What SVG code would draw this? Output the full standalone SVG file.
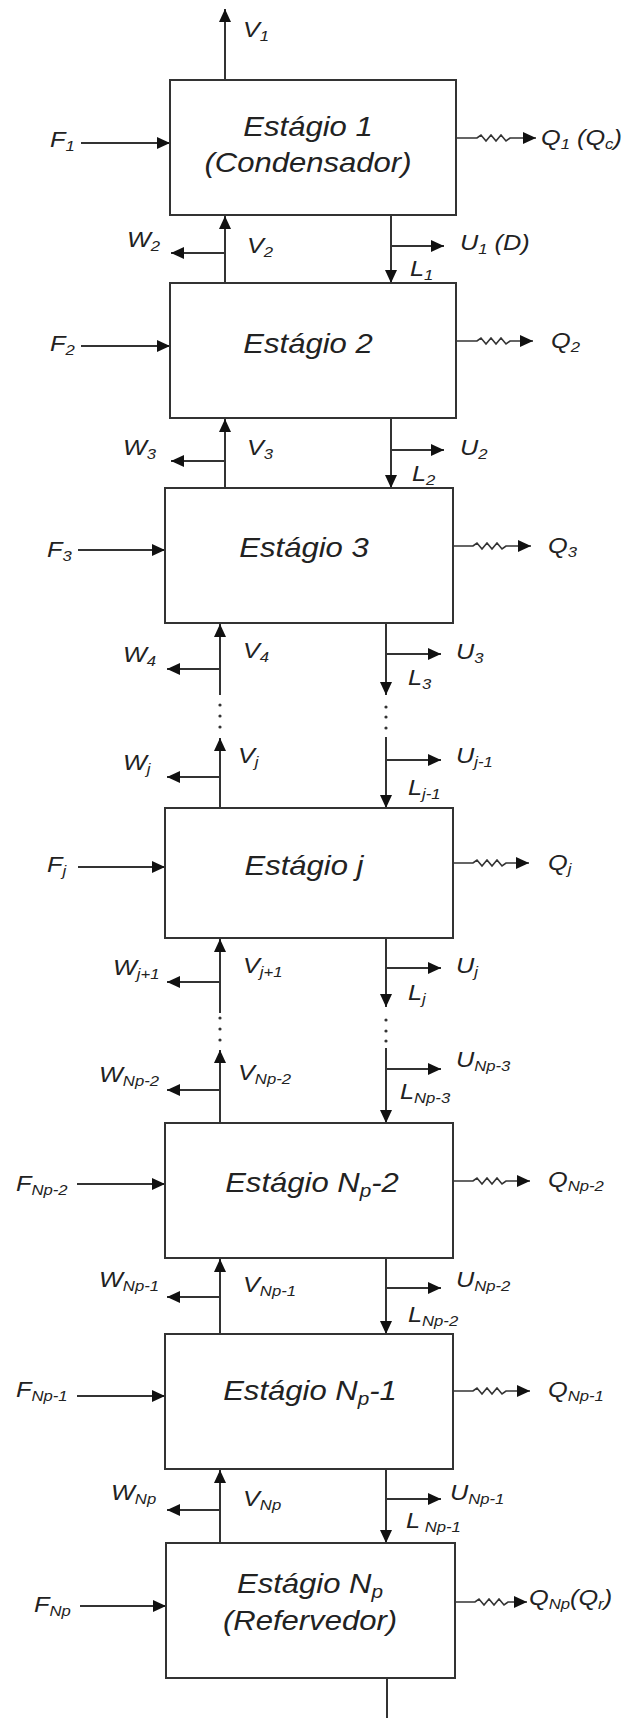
<svg xmlns="http://www.w3.org/2000/svg" width="624" height="1718" viewBox="0 0 624 1718">
<style>
.box{fill:#fff;stroke:#333;stroke-width:2}
.ln{fill:none;stroke:#333;stroke-width:2}
.zz{fill:none;stroke:#333;stroke-width:1.6;stroke-linejoin:miter}
.ar{marker-end:url(#ah)}
.t{font-family:"Liberation Sans",Arial,sans-serif;font-style:italic;fill:#222}
.m{font-size:27px;text-anchor:middle}
.s{font-size:22px}
.sb{font-size:14.5px}
.sm{font-size:18px}
.dot{fill:#333}
</style>
<defs>
<marker id="ah" viewBox="0 0 13 12" refX="13" refY="6" markerWidth="13" markerHeight="12" markerUnits="userSpaceOnUse" orient="auto">
<path d="M0,0 L13,6 L0,12 z" fill="#111"/>
</marker>
</defs>
<rect width="624" height="1718" fill="#fff"/>

<g id="connectors">
<!-- stage 1 -->
<path class="ln ar" d="M225,80 V9"/>
<path class="ln ar" d="M81,143 H170"/>
<path class="zz ar" d="M456,138 H477 l4,-3 l5,6 l5,-6 l5,6 l5,-6 l5,6 l4,-3 H536"/>
<path class="ln ar" d="M225,283 V216"/>
<path class="ln ar" d="M225,253 H171"/>
<path class="ln ar" d="M391,216 V283"/>
<path class="ln ar" d="M391,246 H444"/>
<!-- stage 2 -->
<path class="ln ar" d="M81,346 H170"/>
<path class="zz ar" d="M456,341 H477 l4,-3 l5,6 l5,-6 l5,6 l5,-6 l5,6 l4,-3 H533"/>
<path class="ln ar" d="M225,488 V419"/>
<path class="ln ar" d="M225,461 H171"/>
<path class="ln ar" d="M391,419 V488"/>
<path class="ln ar" d="M391,450 H444"/>
<!-- stage 3 -->
<path class="ln ar" d="M78,550 H165"/>
<path class="zz ar" d="M453,546 H473 l4,-3 l5,6 l5,-6 l5,6 l5,-6 l5,6 l4,-3 H531"/>
<path class="ln ar" d="M220,695 V624"/>
<path class="ln ar" d="M220,669 H167"/>
<path class="ln ar" d="M386,624 V695"/>
<path class="ln ar" d="M386,654 H441"/>
<circle class="dot" cx="220" cy="705" r="1.6"/><circle class="dot" cx="220" cy="716" r="1.6"/><circle class="dot" cx="220" cy="727" r="1.6"/>
<circle class="dot" cx="386" cy="707" r="1.6"/><circle class="dot" cx="386" cy="717" r="1.6"/><circle class="dot" cx="386" cy="728" r="1.6"/>
<path class="ln ar" d="M220,808 V738"/>
<path class="ln ar" d="M220,777 H167"/>
<path class="ln ar" d="M386,737 V808"/>
<path class="ln ar" d="M386,760 H441"/>
<!-- stage j -->
<path class="ln ar" d="M78,867 H165"/>
<path class="zz ar" d="M453,863 H473 l4,-3 l5,6 l5,-6 l5,6 l5,-6 l5,6 l4,-3 H529"/>
<path class="ln ar" d="M220,1013 V939"/>
<path class="ln ar" d="M220,982 H167"/>
<path class="ln ar" d="M386,939 V1007"/>
<path class="ln ar" d="M386,968 H441"/>
<circle class="dot" cx="220" cy="1018" r="1.6"/><circle class="dot" cx="220" cy="1029" r="1.6"/><circle class="dot" cx="220" cy="1040" r="1.6"/>
<circle class="dot" cx="386" cy="1020" r="1.6"/><circle class="dot" cx="386" cy="1031" r="1.6"/><circle class="dot" cx="386" cy="1041" r="1.6"/>
<path class="ln ar" d="M220,1123 V1050"/>
<path class="ln ar" d="M220,1090 H167"/>
<path class="ln ar" d="M386,1048 V1123"/>
<path class="ln ar" d="M386,1069 H441"/>
<!-- stage Np-2 -->
<path class="ln ar" d="M77,1184 H165"/>
<path class="zz ar" d="M453,1181 H473 l4,-3 l5,6 l5,-6 l5,6 l5,-6 l5,6 l4,-3 H530"/>
<path class="ln ar" d="M220,1334 V1259"/>
<path class="ln ar" d="M220,1297 H167"/>
<path class="ln ar" d="M386,1259 V1334"/>
<path class="ln ar" d="M386,1288 H441"/>
<!-- stage Np-1 -->
<path class="ln ar" d="M77,1396 H165"/>
<path class="zz ar" d="M453,1391 H473 l4,-3 l5,6 l5,-6 l5,6 l5,-6 l5,6 l4,-3 H530"/>
<path class="ln ar" d="M220,1543 V1470"/>
<path class="ln ar" d="M220,1510 H167"/>
<path class="ln ar" d="M386,1470 V1543"/>
<path class="ln ar" d="M386,1499 H441"/>
<!-- stage Np -->
<path class="ln ar" d="M80,1606 H166"/>
<path class="zz ar" d="M455,1602 H475 l4,-3 l5,6 l5,-6 l5,6 l5,-6 l5,6 l4,-3 H527"/>
<path class="ln" d="M387,1678 V1718"/>
</g>

<g id="stream-labels" class="t s">
<text transform="matrix(1.15 0 0 1 243 37)">V<tspan class="sb" dy="4">1</tspan></text>
<text transform="matrix(1.15 0 0 1 50 147)">F<tspan class="sb" dy="4">1</tspan></text>
<text transform="matrix(1.15 0 0 1 541 145)">Q<tspan class="sb" dy="4">1</tspan><tspan dy="-4"> (Q</tspan><tspan class="sb" dy="4">c</tspan><tspan dy="-4">)</tspan></text>
<text transform="matrix(1.15 0 0 1 127 247)">W<tspan class="sb" dy="4">2</tspan></text>
<text transform="matrix(1.15 0 0 1 247 253)">V<tspan class="sb" dy="4">2</tspan></text>
<text transform="matrix(1.15 0 0 1 460 250)">U<tspan class="sb" dy="4">1</tspan><tspan dy="-4"> (D)</tspan></text>
<text transform="matrix(1.15 0 0 1 410 276)">L<tspan class="sb" dy="4">1</tspan></text>

<text transform="matrix(1.15 0 0 1 50 351)">F<tspan class="sb" dy="4">2</tspan></text>
<text transform="matrix(1.15 0 0 1 551 348)">Q<tspan class="sb" dy="4">2</tspan></text>
<text transform="matrix(1.15 0 0 1 123 455)">W<tspan class="sb" dy="4">3</tspan></text>
<text transform="matrix(1.15 0 0 1 247 455)">V<tspan class="sb" dy="4">3</tspan></text>
<text transform="matrix(1.15 0 0 1 460 455)">U<tspan class="sb" dy="4">2</tspan></text>
<text transform="matrix(1.15 0 0 1 412 481)">L<tspan class="sb" dy="4">2</tspan></text>

<text transform="matrix(1.15 0 0 1 47 557)">F<tspan class="sb" dy="4">3</tspan></text>
<text transform="matrix(1.15 0 0 1 548 553)">Q<tspan class="sb" dy="4">3</tspan></text>
<text transform="matrix(1.15 0 0 1 123 662)">W<tspan class="sb" dy="4">4</tspan></text>
<text transform="matrix(1.15 0 0 1 243 658)">V<tspan class="sb" dy="4">4</tspan></text>
<text transform="matrix(1.15 0 0 1 456 659)">U<tspan class="sb" dy="4">3</tspan></text>
<text transform="matrix(1.15 0 0 1 408 685)">L<tspan class="sb" dy="4">3</tspan></text>
<text transform="matrix(1.15 0 0 1 123 770)">W<tspan class="sb" dy="4">j</tspan></text>
<text transform="matrix(1.15 0 0 1 238 763)">V<tspan class="sb" dy="4">j</tspan></text>
<text transform="matrix(1.15 0 0 1 456 763)">U<tspan class="sb" dy="4">j-1</tspan></text>
<text transform="matrix(1.15 0 0 1 408 795)">L<tspan class="sb" dy="4">j-1</tspan></text>

<text transform="matrix(1.15 0 0 1 47 872)">F<tspan class="sb" dy="4">j</tspan></text>
<text transform="matrix(1.15 0 0 1 548 870)">Q<tspan class="sb" dy="4">j</tspan></text>
<text transform="matrix(1.15 0 0 1 113 975)">W<tspan class="sb" dy="4">j+1</tspan></text>
<text transform="matrix(1.15 0 0 1 243 973)">V<tspan class="sb" dy="4">j+1</tspan></text>
<text transform="matrix(1.15 0 0 1 456 973)">U<tspan class="sb" dy="4">j</tspan></text>
<text transform="matrix(1.15 0 0 1 408 1000)">L<tspan class="sb" dy="4">j</tspan></text>
<text transform="matrix(1.15 0 0 1 99 1082)">W<tspan class="sb" dy="4">Np-2</tspan></text>
<text transform="matrix(1.15 0 0 1 238 1080)">V<tspan class="sb" dy="4">Np-2</tspan></text>
<text transform="matrix(1.15 0 0 1 456 1067)">U<tspan class="sb" dy="4">Np-3</tspan></text>
<text transform="matrix(1.15 0 0 1 400 1099)">L<tspan class="sb" dy="4">Np-3</tspan></text>

<text transform="matrix(1.15 0 0 1 16 1191)">F<tspan class="sb" dy="4">Np-2</tspan></text>
<text transform="matrix(1.15 0 0 1 548 1187)">Q<tspan class="sb" dy="4">Np-2</tspan></text>
<text transform="matrix(1.15 0 0 1 99 1287)">W<tspan class="sb" dy="4">Np-1</tspan></text>
<text transform="matrix(1.15 0 0 1 243 1292)">V<tspan class="sb" dy="4">Np-1</tspan></text>
<text transform="matrix(1.15 0 0 1 456 1287)">U<tspan class="sb" dy="4">Np-2</tspan></text>
<text transform="matrix(1.15 0 0 1 408 1322)">L<tspan class="sb" dy="4">Np-2</tspan></text>

<text transform="matrix(1.15 0 0 1 16 1397)">F<tspan class="sb" dy="4">Np-1</tspan></text>
<text transform="matrix(1.15 0 0 1 548 1397)">Q<tspan class="sb" dy="4">Np-1</tspan></text>
<text transform="matrix(1.15 0 0 1 111 1500)">W<tspan class="sb" dy="4">Np</tspan></text>
<text transform="matrix(1.15 0 0 1 243 1506)">V<tspan class="sb" dy="4">Np</tspan></text>
<text transform="matrix(1.15 0 0 1 450 1500)">U<tspan class="sb" dy="4">Np-1</tspan></text>
<text transform="matrix(1.15 0 0 1 406 1528)">L<tspan class="sb" dy="4"> Np-1</tspan></text>

<text transform="matrix(1.15 0 0 1 34 1612)">F<tspan class="sb" dy="4">Np</tspan></text>
<text transform="matrix(1.15 0 0 1 529 1605)">Q<tspan class="sb" dy="4">Np</tspan><tspan dy="-4">(Q</tspan><tspan class="sb" dy="4">r</tspan><tspan dy="-4">)</tspan></text>
</g>

<g id="stage-1">
<rect class="box" x="170" y="80" width="286" height="135"/>
<text class="t m" transform="matrix(1.15 0 0 1 308 136)">Estágio 1</text>
<text class="t m" transform="matrix(1.15 0 0 1 308 172)">(Condensador)</text>
</g>
<g id="stage-2">
<rect class="box" x="170" y="283" width="286" height="135"/>
<text class="t m" transform="matrix(1.15 0 0 1 308 353)">Estágio 2</text>
</g>
<g id="stage-3">
<rect class="box" x="165" y="488" width="288" height="135"/>
<text class="t m" transform="matrix(1.15 0 0 1 304 557)">Estágio 3</text>
</g>
<g id="stage-j">
<rect class="box" x="165" y="808" width="288" height="130"/>
<text class="t m" transform="matrix(1.15 0 0 1 304 875)">Estágio j</text>
</g>
<g id="stage-np-2">
<rect class="box" x="165" y="1123" width="288" height="135"/>
<text class="t m" transform="matrix(1.15 0 0 1 312 1192)">Estágio N<tspan class="sm" dy="5">p</tspan><tspan dy="-5">-2</tspan></text>
</g>
<g id="stage-np-1">
<rect class="box" x="165" y="1334" width="288" height="135"/>
<text class="t m" transform="matrix(1.15 0 0 1 310 1400)">Estágio N<tspan class="sm" dy="5">p</tspan><tspan dy="-5">-1</tspan></text>
</g>
<g id="stage-np">
<rect class="box" x="166" y="1543" width="289" height="135"/>
<text class="t m" transform="matrix(1.15 0 0 1 310 1593)">Estágio N<tspan class="sm" dy="5">p</tspan></text>
<text class="t m" transform="matrix(1.15 0 0 1 310 1630)">(Refervedor)</text>
</g>
</svg>
